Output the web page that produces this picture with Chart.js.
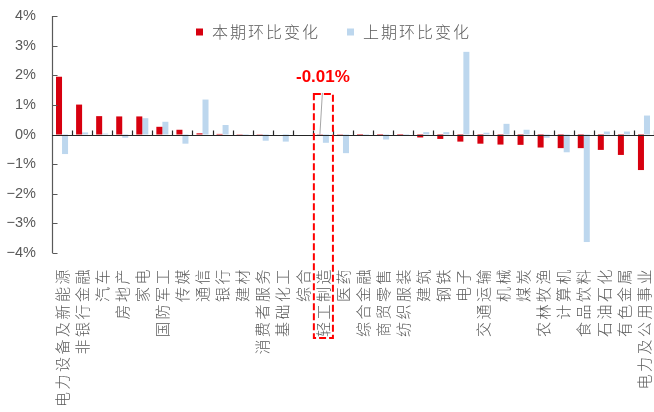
<!DOCTYPE html>
<html>
<head>
<meta charset="utf-8">
<script src="https://cdn.jsdelivr.net/npm/chart.js@4/dist/chart.umd.min.js"></script>
<style>
  html, body { margin: 0; padding: 0; background: #fff; }
  #wrap { width: 654px; height: 412px; position: relative; }
</style>
</head>
<body>
<div id="wrap"><canvas id="chart"></canvas></div>
<script>
// 中信一级行业，按本期环比变化降序排列
const industries = [
  '电力设备及新能源', '非银行金融', '汽车', '房地产', '家电', '国防军工', '传媒', '通信',
  '银行', '建材', '消费者服务', '基础化工', '综合', '轻工制造', '医药', '综合金融',
  '商贸零售', '纺织服装', '建筑', '钢铁', '电子', '交通运输', '机械', '煤炭',
  '农林牧渔', '计算机', '食品饮料', '石油石化', '有色金属', '电力及公用事业'
];

// 本期环比变化（%）
const currentChange = [
  1.95, 1.01, 0.62, 0.61, 0.61, 0.26, 0.16, 0.04,
  0.02, 0.01, 0.01, 0.00, 0.00, -0.01, -0.01, -0.02,
  -0.02, -0.03, -0.10, -0.15, -0.24, -0.31, -0.34, -0.35,
  -0.44, -0.46, -0.46, -0.52, -0.69, -1.20
];

// 上期环比变化（%）
const previousChange = [
  -0.66, 0.07, 0.03, -0.11, 0.55, 0.43, -0.31, 1.18,
  0.32, -0.04, -0.21, -0.24, 0.00, -0.28, -0.63, -0.02,
  -0.17, -0.04, 0.08, 0.08, 2.79, 0.06, 0.36, 0.16,
  -0.11, -0.60, -3.63, 0.10, 0.10, 0.64
];

const seriesNames = ['本期环比变化', '上期环比变化'];
const seriesColors = ['#D7000F', '#BDD7EE'];
const yRange = { min: -4, max: 4, step: 1 };
const highlightIndustry = '轻工制造';

const TEXT_GRAY = '#595959';
const CJK_FONT = '"Noto Sans CJK SC", "Noto Sans", sans-serif';
const CJK_SPACING = '2.5px';

// 中文标签字距：横轴标签在数据之前绘制，纵轴标签（z=1）在数据之后绘制
const letterSpacing = {
  id: 'letterSpacing',
  beforeDraw(chart) { chart.ctx.letterSpacing = CJK_SPACING; },
  beforeDatasetsDraw(chart) { chart.ctx.letterSpacing = '0px'; }
};

// 坐标轴：纵轴线、零值横轴线及向内的刻度线
const axisFrame = {
  id: 'axisFrame',
  afterDatasetsDraw(chart) {
    const { ctx, chartArea: a, scales: { x, y } } = chart;
    const y0 = Math.round(y.getPixelForValue(0)) + 0.5;
    ctx.save();
    ctx.lineWidth = 1.2;
    ctx.strokeStyle = TEXT_GRAY;
    ctx.beginPath();
    const ax = Math.round(a.left) + 0.5;
    ctx.moveTo(ax, a.top);
    ctx.lineTo(ax, a.bottom);
    y.ticks.forEach((t, i) => {
      const py = Math.round(y.getPixelForTick(i)) + 0.5;
      ctx.moveTo(ax, py);
      ctx.lineTo(ax + 5, py);
    });
    ctx.stroke();

    ctx.strokeStyle = '#262626';
    ctx.beginPath();
    ctx.moveTo(a.left, y0);
    ctx.lineTo(a.right, y0);
    for (let i = 0; i < industries.length; i++) {
      const px = Math.round(x.getPixelForValue(i + 0.5)) + 0.5;
      ctx.moveTo(px, y0);
      ctx.lineTo(px, y0 - 5);
    }
    ctx.stroke();
    ctx.restore();
  }
};

// 图例与重点行业标注
const overlay = {
  id: 'overlay',
  afterDraw(chart) {
    const { ctx, chartArea: a, scales: { x, y } } = chart;
    ctx.save();

    // 图例
    const legendX = [196, 347];
    const legendY = 32;
    ctx.letterSpacing = '2px';
    ctx.font = '300 16px ' + CJK_FONT;
    ctx.textBaseline = 'middle';
    ctx.textAlign = 'left';
    chart.data.datasets.forEach((ds, i) => {
      ctx.fillStyle = ds.backgroundColor;
      ctx.fillRect(legendX[i], legendY - 3.5, 7, 7);
      ctx.fillStyle = TEXT_GRAY;
      ctx.fillText(ds.label, legendX[i] + 16, legendY);
    });
    ctx.letterSpacing = '0px';

    // 轻工制造：虚线框 + 引线 + 数值
    const idx = industries.indexOf(highlightIndustry);
    const val = currentChange[idx];
    const left = x.getPixelForValue(idx - 0.5);
    const right = x.getPixelForValue(idx + 0.5);
    const top = y.getPixelForValue(1.37);
    const bottom = a.bottom + 85;
    ctx.strokeStyle = '#FF0000';
    ctx.lineWidth = 2;
    ctx.setLineDash([7, 3]);
    ctx.strokeRect(left + 1, top, right - left - 1, bottom - top);
    ctx.setLineDash([]);

    const barMeta = chart.getDatasetMeta(0).data[idx];
    ctx.strokeStyle = '#A6A6A6';
    ctx.lineWidth = 1;
    ctx.beginPath();
    ctx.moveTo(barMeta.x, y.getPixelForValue(val));
    ctx.lineTo(barMeta.x + 2.5, top - 1);
    ctx.stroke();

    ctx.fillStyle = '#FF0000';
    ctx.font = 'bold 17px "Liberation Sans", Arial, sans-serif';
    ctx.textAlign = 'center';
    ctx.textBaseline = 'middle';
    ctx.fillText((val < 0 ? '-' : '') + Math.abs(val).toFixed(2) + '%', (left + right) / 2, 77);
    ctx.restore();
  }
};

new Chart(document.getElementById('chart'), {
  type: 'bar',
  data: {
    labels: industries,
    datasets: [
      { label: seriesNames[0], data: currentChange, backgroundColor: seriesColors[0] },
      { label: seriesNames[1], data: previousChange, backgroundColor: seriesColors[1] }
    ]
  },
  options: {
    responsive: true,
    maintainAspectRatio: false,
    animation: false,
    layout: { padding: { top: 16, right: 0, bottom: 0, left: 0 } },
    datasets: {
      bar: { categoryPercentage: 0.6, barPercentage: 1.0, borderWidth: 0 }
    },
    plugins: {
      legend: { display: false },
      tooltip: { enabled: false }
    },
    scales: {
      x: {
        offset: true,
        grid: { display: false, drawTicks: false },
        border: { display: false },
        ticks: {
          autoSkip: false,
          maxRotation: 90,
          minRotation: 90,
          padding: 14,
          color: TEXT_GRAY,
          font: { family: CJK_FONT, size: 15, weight: 300 }
        },
        afterFit(scale) {
          scale.height = 159;
          scale.paddingLeft = 0;
          scale.paddingRight = 0;
        }
      },
      y: {
        min: yRange.min,
        max: yRange.max,
        grid: { display: false, drawTicks: false },
        border: { display: false },
        ticks: {
          z: 1,
          stepSize: yRange.step,
          padding: 16,
          color: TEXT_GRAY,
          font: { family: '"Liberation Sans", Arial, sans-serif', size: 14.5 },
          callback: (v) => (v < 0 ? '\u2212' + Math.abs(v) : v) + '%'
        },
        afterFit(scale) {
          scale.width = 52;
          scale.paddingTop = 0;
          scale.paddingBottom = 0;
        }
      }
    }
  },
  plugins: [letterSpacing, axisFrame, overlay]
});
</script>
</body>
</html>
